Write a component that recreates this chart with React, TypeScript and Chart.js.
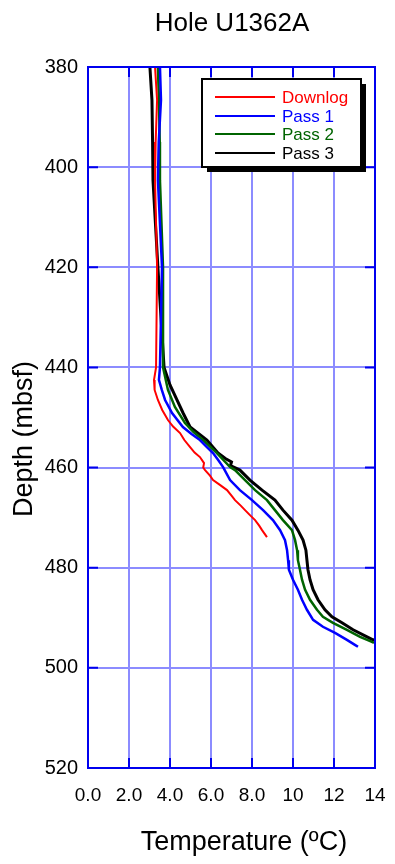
import React, { useEffect, useRef } from "react";
import { Chart, registerables } from "chart.js";

Chart.register(...registerables);

const chartTitle = "Hole U1362A";
const xTitle = "Temperature (ºC)";
const yTitle = "Depth (mbsf)";
const seriesNames = ["Downlog", "Pass 1", "Pass 2", "Pass 3"];
const seriesColors = ["#ff0000", "#0000ff", "#006400", "#000000"];
const xTicks = [0, 2, 4, 6, 8, 10, 12, 14];
const yTicks = [380, 400, 420, 440, 460, 480, 500, 520];

// Downlog
const downlogTemp = [3.27, 3.37, 3.30, 3.27, 3.37, 3.32, 3.22, 3.25, 3.41, 3.62, 3.90, 4.15, 4.49, 4.7, 4.98, 5.2, 5.46, 5.66, 5.62, 5.71, 5.95, 6.10, 6.45, 6.78, 7.0, 7.17, 7.45, 7.66, 7.9, 8.15, 8.35, 8.49, 8.73];
const downlogDepth = [380, 386.6, 395, 402.6, 420, 440, 442.5, 444.5, 446.5, 448.5, 450.5, 451.8, 453.1, 454.5, 455.9, 457.0, 457.9, 459.1, 460.0, 460.5, 461.6, 462.5, 463.5, 464.5, 465.6, 466.5, 467.6, 468.5, 469.5, 470.5, 471.6, 472.5, 473.9];

// Pass 1
const pass1Temp = [3.51, 3.56, 3.45, 3.41, 3.61, 3.51, 3.46, 3.6, 3.76, 4.10, 4.63, 5.05, 5.46, 5.8, 6.10, 6.35, 6.59, 6.93, 7.41, 8.0, 8.54, 9.02, 9.37, 9.61, 9.71, 9.76, 9.80, 10.0, 10.24, 10.44, 10.68, 10.98, 11.46, 12.05, 12.63, 13.02, 13.17];
const pass1Depth = [380, 386.6, 395, 402.6, 420, 440, 442.5, 444.5, 446.5, 449.1, 451.9, 453.3, 454.5, 455.9, 457.1, 458.5, 459.9, 462.5, 464.5, 466.5, 468.5, 470.5, 472.5, 474.5, 476.5, 478.5, 480.4, 482.4, 484.4, 486.4, 488.4, 490.4, 491.8, 493.0, 494.4, 495.4, 495.8];

// Pass 2
const pass2Temp = [3.41, 3.46, 3.50, 3.51, 3.66, 3.66, 3.90, 4.24, 4.73, 5.15, 5.61, 6.29, 6.93, 7.17, 7.66, 8.15, 8.73, 9.12, 9.51, 9.95, 10.10, 10.20, 10.24, 10.34, 10.44, 10.59, 10.83, 11.17, 11.46, 11.95, 12.63, 13.27, 13.85, 13.95];
const pass2Depth = [380, 386.6, 395, 402.6, 420, 440, 444.5, 447.9, 451.1, 452.9, 454.5, 457.1, 459.9, 460.5, 462.5, 464.5, 466.5, 468.5, 470.5, 472.5, 474.5, 476.5, 478.5, 480.4, 482.4, 484.4, 486.4, 488.4, 489.8, 491.0, 492.4, 493.8, 494.8, 495.0];

// Pass 3
const pass3Temp = [3.02, 3.12, 3.15, 3.17, 3.41, 3.71, 4.0, 4.34, 4.65, 4.98, 5.80, 6.34, 6.7, 7.0, 6.95, 7.41, 7.90, 8.49, 9.12, 9.51, 9.95, 10.24, 10.49, 10.63, 10.68, 10.73, 10.83, 10.98, 11.22, 11.56, 11.90, 12.39, 12.93, 13.61, 13.90, 14.2];
const pass3Depth = [380, 386.6, 395, 402.6, 420, 440, 443.5, 446.5, 449.2, 451.9, 454.5, 457.1, 458.2, 458.9, 459.6, 460.5, 462.5, 464.5, 466.5, 468.5, 470.5, 472.5, 474.5, 476.5, 478.5, 480.4, 482.4, 484.4, 486.4, 488.4, 489.8, 491.0, 492.4, 493.8, 494.4, 494.6];

const FONT = "'Liberation Sans', Arial, Helvetica, sans-serif";

function toPoints(t: number[], d: number[]) {
  return t.map((x, i) => ({ x, y: d[i] }));
}

const decorPlugin = {
  id: "decor",
  afterDatasetsDraw(chart: any) {
    const { ctx, chartArea } = chart;
    const { left, right, top, bottom } = chartArea;
    const xs = chart.scales.x;
    const ys = chart.scales.y;
    ctx.save();
    // inner tick marks
    ctx.strokeStyle = "#0000ee";
    ctx.lineWidth = 2;
    const tl = 10;
    ctx.beginPath();
    xTicks.forEach((v) => {
      const px = xs.getPixelForValue(v);
      ctx.moveTo(px, top);
      ctx.lineTo(px, top + tl);
      ctx.moveTo(px, bottom);
      ctx.lineTo(px, bottom - tl);
    });
    yTicks.forEach((v) => {
      const py = ys.getPixelForValue(v);
      ctx.moveTo(left, py);
      ctx.lineTo(left + tl, py);
      ctx.moveTo(right, py);
      ctx.lineTo(right - tl, py);
    });
    ctx.stroke();
    // frame
    ctx.strokeRect(left, top, right - left, bottom - top);

    // legend
    const bx = 202, by = 79, bw = 159, bh = 88;
    ctx.fillStyle = "#000";
    ctx.fillRect(bx + 5, by + 5, bw, bh);
    ctx.fillStyle = "#fff";
    ctx.fillRect(bx, by, bw, bh);
    ctx.strokeStyle = "#000";
    ctx.lineWidth = 2;
    ctx.strokeRect(bx, by, bw, bh);
    const rows = [97, 116, 134, 153];
    ctx.font = `17px ${FONT}`;
    ctx.textBaseline = "middle";
    ctx.textAlign = "left";
    seriesNames.forEach((n, i) => {
      ctx.strokeStyle = seriesColors[i];
      ctx.lineWidth = 2;
      ctx.beginPath();
      ctx.moveTo(215, rows[i]);
      ctx.lineTo(275, rows[i]);
      ctx.stroke();
      ctx.fillStyle = seriesColors[i];
      ctx.fillText(n, 282, rows[i] + 1);
    });

    // titles
    ctx.fillStyle = "#000";
    ctx.textAlign = "center";
    ctx.font = `26px ${FONT}`;
    ctx.fillText(chartTitle, 232, 24);
    ctx.font = `27px ${FONT}`;
    ctx.fillText(xTitle, 244, 843);
    ctx.translate(24, 439);
    ctx.rotate(-Math.PI / 2);
    ctx.font = `27px ${FONT}`;
    ctx.fillText(yTitle, 0, 1);
    ctx.restore();
  },
};

export default function App() {
  const ref = useRef<HTMLCanvasElement>(null);
  useEffect(() => {
    const widths = [2, 2.5, 2.5, 3];
    const data = [
      toPoints(downlogTemp, downlogDepth),
      toPoints(pass1Temp, pass1Depth),
      toPoints(pass2Temp, pass2Depth),
      toPoints(pass3Temp, pass3Depth),
    ];
    const chart = new Chart(ref.current!, {
      type: "scatter",
      data: {
        datasets: seriesNames.map((n, i) => ({
          label: n,
          data: data[i],
          showLine: true,
          borderColor: seriesColors[i],
          backgroundColor: seriesColors[i],
          borderWidth: widths[i],
          pointRadius: 0,
          tension: 0,
        })),
      },
      options: {
        animation: false,
        responsive: false,
        layout: { padding: { left: 0, top: 67, right: 20, bottom: 0 } },
        plugins: { legend: { display: false }, tooltip: { enabled: false }, title: { display: false } },
        scales: {
          x: {
            type: "linear",
            min: 0,
            max: 14,
            afterBuildTicks: (s: any) => {
              s.ticks = xTicks.map((v) => ({ value: v }));
            },
            afterFit: (s: any) => {
              s.height = 96;
              s.paddingLeft = 0;
              s.paddingRight = 0;
            },
            ticks: {
              color: "#000",
              font: { family: FONT, size: 19 },
              padding: 16,
              maxRotation: 0,
              autoSkip: false,
              callback: (v: any) => (Number(v) < 10 ? Number(v).toFixed(1) : String(v)),
            },
            grid: { color: "#8c8cff", lineWidth: 2, drawTicks: false },
            border: { display: false },
          },
          y: {
            type: "linear",
            reverse: true,
            min: 380,
            max: 520,
            afterBuildTicks: (s: any) => {
              s.ticks = yTicks.map((v) => ({ value: v }));
            },
            afterFit: (s: any) => {
              s.width = 88;
              s.paddingTop = 0;
              s.paddingBottom = 0;
            },
            ticks: {
              color: "#000",
              font: { family: FONT, size: 20 },
              padding: 10,
              autoSkip: false,
            },
            grid: { color: "#8c8cff", lineWidth: 2, drawTicks: false },
            border: { display: false },
          },
        },
      },
      plugins: [decorPlugin],
    });
    return () => chart.destroy();
  }, []);
  return (
    <div style={{ position: "absolute", left: 0, top: 0, width: 395, height: 864, background: "#fff" }}>
      <canvas ref={ref} width={395} height={864} style={{ width: 395, height: 864, display: "block" }} />
    </div>
  );
}
